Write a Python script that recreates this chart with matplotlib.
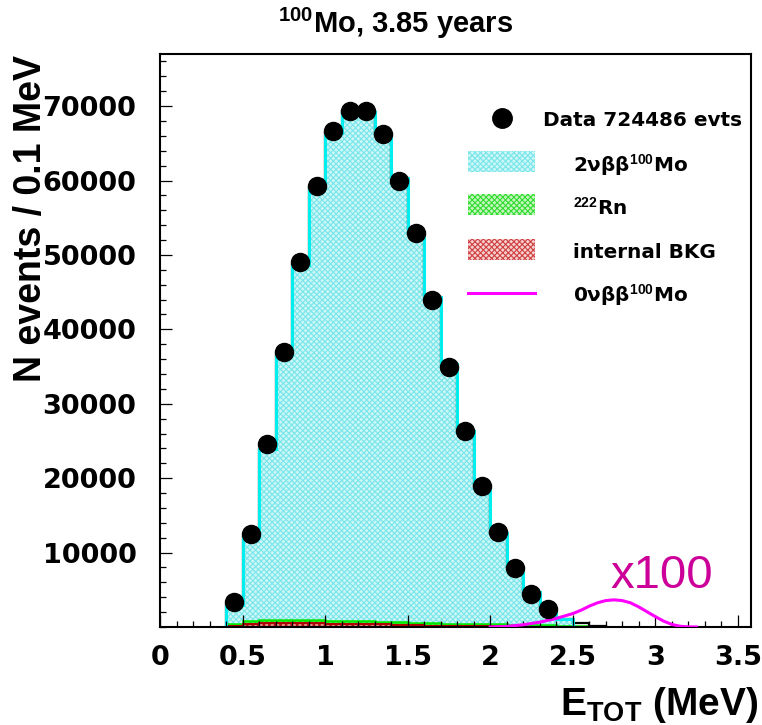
# 100Mo 2nubb spectrum, 3.85 years

# Imports
import numpy as np
import matplotlib.pyplot as plt
from matplotlib.patches import Rectangle
from matplotlib.ticker import MultipleLocator

plt.rcParams['mathtext.fontset'] = 'custom'
plt.rcParams['mathtext.rm'] = 'Liberation Sans'
plt.rcParams['mathtext.bf'] = 'Liberation Sans:bold'
plt.rcParams['hatch.linewidth'] = 0.8

# Data (bins of 0.1 MeV from 0.4 to 2.7 MeV)
bin_edges = [0.4, 0.5, 0.6, 0.7, 0.8, 0.9, 1.0, 1.1, 1.2, 1.3, 1.4, 1.5,
             1.6, 1.7, 1.8, 1.9, 2.0, 2.1, 2.2, 2.3, 2.4, 2.5, 2.6, 2.7]
mc_total = [3000, 12100, 23900, 36600, 48600, 59000, 66400, 69300, 69200,
            66300, 60300, 52900, 44300, 35300, 26400, 18900, 12600, 8000,
            4700, 2500, 1100, 500, 150]
rn222 = [250, 450, 480, 470, 450, 420, 400, 380, 360, 340, 330, 320, 310,
         300, 290, 280, 270, 250, 230, 200, 170, 120, 0]
internal_bkg = [150, 400, 480, 520, 520, 500, 470, 440, 400, 360, 300, 250,
                200, 160, 130, 100, 80, 60, 50, 40, 30, 20, 0]

data_x = [0.45, 0.55, 0.65, 0.75, 0.85, 0.95, 1.05, 1.15, 1.25, 1.35,
          1.45, 1.55, 1.65, 1.75, 1.85, 1.95, 2.05, 2.15, 2.25, 2.35]
data_y = [3400, 12500, 24600, 37000, 49000, 59200, 66600, 69300, 69300, 66200,
          60000, 52900, 44000, 35000, 26300, 18900, 12700, 7900, 4500, 2400]

# 0nubb (x100)
onu_x = [2.00, 2.10, 2.20, 2.30, 2.40, 2.50, 2.55, 2.60, 2.65, 2.70, 2.75,
         2.80, 2.85, 2.90, 2.95, 3.00, 3.05, 3.10, 3.15, 3.20, 3.25]
onu_y = [0, 80, 300, 650, 1150, 1800, 2250, 2800, 3250, 3550, 3650,
         3550, 3250, 2700, 2050, 1400, 800, 350, 100, 20, 0]

# Visualization
fig = plt.figure(figsize=(7.62, 7.25), dpi=100)
ax = fig.add_axes([160 / 762, 98 / 725, 591 / 762, 573 / 725])

bkg_sum = np.array(rn222) + np.array(internal_bkg)
n_cyan = 21  # 2nubb fill stops at 2.5 MeV

ax.stairs(mc_total[:n_cyan], bin_edges[:n_cyan + 1], fill=True,
          facecolor='#cdf6f6', edgecolor='#78e6ea', hatch='xxxxxx', lw=0)
ax.stairs(bkg_sum, bin_edges, fill=True, facecolor='#c8f4c0',
          edgecolor='#30dd30', hatch='xxxxxx', lw=0)
ax.stairs(internal_bkg, bin_edges, fill=True, facecolor='#e09080',
          edgecolor='#b01010', hatch='xxxxxx', lw=0)
ax.stairs(bkg_sum, bin_edges, color='#00e800', lw=1.8)
ax.stairs(internal_bkg, bin_edges, color='#b00000', lw=1.4)
ax.stairs(mc_total, bin_edges, color='black', lw=1.6)
ax.stairs(mc_total[:n_cyan], bin_edges[:n_cyan + 1], color='#00eeee', lw=2.2)

ax.plot(onu_x, onu_y, color='#ff00ff', lw=2.2, zorder=4)
ax.plot(data_x, data_y, 'o', color='black', ms=13, zorder=5)

ax.text(2.726, 5240, 'x100', color='#cc0099', fontsize=34,
        family='Liberation Sans', va='baseline')

ax.set_xlim(0, 3.58)
ax.set_ylim(0, 77000)
ax.set_xticks([0, 0.5, 1, 1.5, 2, 2.5, 3, 3.5])
ax.set_xticklabels(['0', '0.5', '1', '1.5', '2', '2.5', '3', '3.5'])
ax.set_yticks([10000, 20000, 30000, 40000, 50000, 60000, 70000])
ax.set_yticklabels(['10000', '20000', '30000', '40000', '50000', '60000', '70000'])
ax.xaxis.set_minor_locator(MultipleLocator(0.1))
ax.yaxis.set_minor_locator(MultipleLocator(2000))
ax.tick_params(which='both', direction='in', top=False, right=False, width=0.9)
ax.tick_params(which='major', length=8.6)
ax.tick_params(which='minor', length=4.3)
ax.tick_params(axis='x', pad=13)
ax.tick_params(axis='y', pad=17)
for lab in ax.get_xticklabels() + ax.get_yticklabels():
    lab.set_fontsize(19.5)
    lab.set_fontweight('bold')
for sp in ax.spines.values():
    sp.set_linewidth(1.5)

# Legend (drawn by hand like the ROOT one)
ax.plot([0.5787], [0.8883], 'o', color='black', ms=14, transform=ax.transAxes,
        clip_on=False)
ax.text(0.648, 0.8743, 'Data 724486 evts', transform=ax.transAxes,
        fontsize=14.4, fontweight='bold', va='baseline')

leg_labels = ['2νββ$^{\\mathbf{100}}$Mo', '$^{\\mathbf{222}}$Rn',
              'internal BKG', '0νββ$^{\\mathbf{100}}$Mo']
leg_faces = ['#cdf6f6', '#c8f4c0', '#f6d0d0', None]
leg_hatch = ['#78e6ea', '#30dd30', '#d04040', '#ff00ff']
leg_centers = [0.8124, 0.7365, 0.6588, 0.5829]
leg_base = [0.7941, 0.7190, 0.6440, 0.5672]
for lab, fc, hc, yc, yb in zip(leg_labels, leg_faces, leg_hatch, leg_centers, leg_base):
    if fc is None:
        ax.plot([0.5212, 0.6346], [yc, yc], color=hc, lw=2.2,
                transform=ax.transAxes, clip_on=False)
    else:
        ax.add_patch(Rectangle((0.5212, yc - 0.0183), 0.1134, 0.0366,
                               transform=ax.transAxes, facecolor=fc,
                               edgecolor=hc, hatch='xxxxxx', lw=0))
    ax.text(0.6988, yb, lab, transform=ax.transAxes, fontsize=14.4,
            fontweight='bold', va='baseline')

# Titles
fig.text(396 / 762, 1 - 33 / 725, '$^{\\mathbf{100}}$Mo, 3.85 years',
         family='Liberation Sans', fontweight='bold', fontsize=21,
         ha='center', va='baseline')
fig.text(31 / 762, 1 - 218 / 725, 'N events / 0.1 MeV', rotation=90,
         family='Liberation Sans', fontweight='bold', fontsize=27,
         ha='center', va='center')
fig.text(758 / 762, 10 / 725, 'E$_{\\mathbf{TOT}}$ (MeV)',
         family='Liberation Sans', fontweight='bold', fontsize=28,
         ha='right', va='baseline')

fig.savefig('out.png', dpi=100)
